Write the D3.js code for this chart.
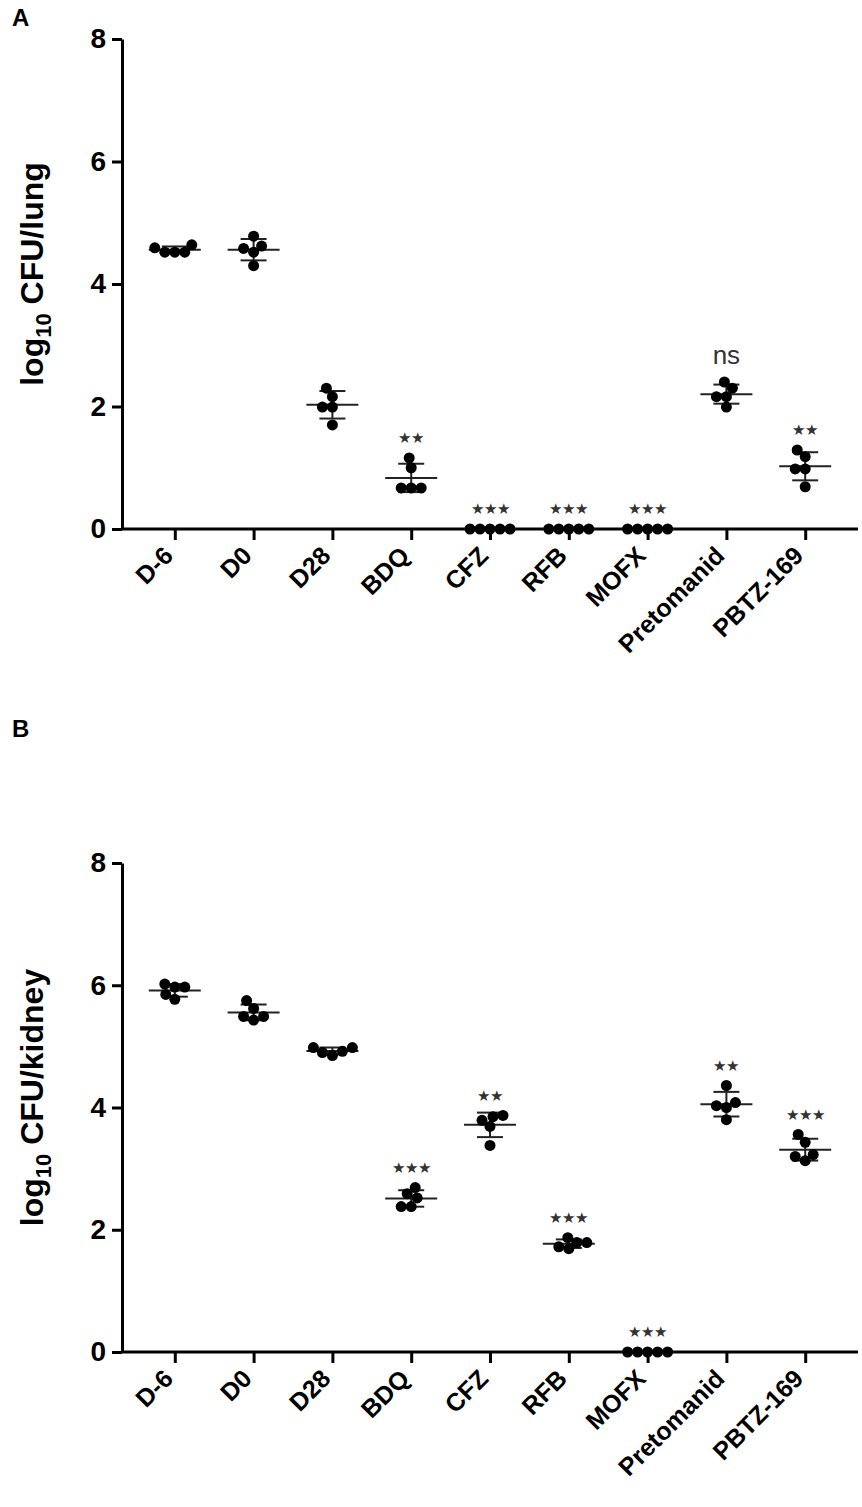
<!DOCTYPE html>
<html>
<head>
<meta charset="utf-8">
<script src="https://cdn.jsdelivr.net/npm/d3@7"></script>
<style>
  body { margin: 0; background: #fff; }
  svg { display: block; }
  text { font-family: "Liberation Sans", Arial, sans-serif; }
</style>
</head>
<body>
<script>
/* global d3 */

var categories = ["D-6", "D0", "D28", "BDQ", "CFZ", "RFB", "MOFX", "Pretomanid", "PBTZ-169"];

// log10 CFU per mouse, 5 mice per group
var lungValues = [
    [4.64, 4.52, 4.52, 4.52, 4.59],
    [4.78, 4.62, 4.58, 4.52, 4.30],
    [2.30, 2.16, 1.99, 1.99, 1.70],
    [1.16, 1.00, 0.67, 0.67, 0.67],
    [0, 0, 0, 0, 0],
    [0, 0, 0, 0, 0],
    [0, 0, 0, 0, 0],
    [2.40, 2.30, 2.16, 2.16, 1.99],
    [1.29, 1.18, 0.98, 0.98, 0.69]
];
var lungSig = ["", "", "", "**", "***", "***", "***", "ns", "**"];

var kidneyValues = [
    [5.97, 6.02, 5.77, 5.85, 5.97],
    [5.75, 5.62, 5.49, 5.43, 5.49],
    [4.98, 4.92, 4.85, 4.90, 4.98],
    [2.69, 2.59, 2.52, 2.38, 2.38],
    [3.87, 3.85, 3.79, 3.69, 3.38],
    [1.87, 1.79, 1.69, 1.72, 1.79],
    [0, 0, 0, 0, 0],
    [4.36, 4.08, 4.03, 4.00, 3.80],
    [3.56, 3.43, 3.23, 3.13, 3.20]
];
var kidneySig = ["", "", "", "***", "**", "***", "***", "**", "***"];

var yTicks = [0, 2, 4, 6, 8];

var W = 862, H = 1507;
var svg = d3.select("body").append("svg")
    .attr("width", W)
    .attr("height", H);

var x = d3.scalePoint()
    .domain(categories)
    .range([122, 858])
    .padding(0.67);

var R = 5.5;

// simple beeswarm: place each dot at the smallest horizontal offset that doesn't collide
var swarm = (vals, y) => {
    var placed = [];
    vals.map((v, i) => ({ v: v, i: i }))
        .sort((a, b) => a.v - b.v)
        .forEach((p) => {
            var py = y(p.v);
            var off = 0;
            for (var k = 0; k < 200; k++) {
                var cand = (k % 2 === 0 ? 1 : -1) * Math.ceil(k / 2);
                var ok = placed.every((q) => Math.hypot(q.dx - cand, q.py - py) >= 10);
                if (ok) { off = cand; break; }
            }
            placed.push({ dx: off, py: py });
        });
    return placed;
};

var drawPanel = (opts) => {
    var y = d3.scaleLinear().domain([0, 8]).range(opts.yRange);
    var g = svg.append("g");

    // panel letter
    g.append("text")
        .attr("x", 12)
        .attr("y", opts.letterY)
        .attr("font-size", 24)
        .attr("font-weight", "bold")
        .text(opts.letter);

    // y axis
    var yAxis = g.append("g")
        .attr("transform", "translate(122,0)")
        .call(d3.axisLeft(y).tickValues(yTicks).tickSize(10).tickSizeOuter(0).tickPadding(6));
    yAxis.select(".domain").attr("stroke-width", 3);
    yAxis.selectAll(".tick line").attr("stroke-width", 3);
    yAxis.selectAll(".tick text")
        .attr("font-size", 28)
        .attr("font-weight", "bold")
        .attr("font-family", "Liberation Sans, Arial, sans-serif")
        .attr("fill", "#000");

    // x axis
    var xAxis = g.append("g")
        .attr("transform", "translate(0," + y(0) + ")")
        .call(d3.axisBottom(x).tickSize(11).tickSizeOuter(0));
    xAxis.select(".domain")
        .attr("stroke-width", 3)
        .attr("d", "M122,0H858");
    xAxis.selectAll(".tick line").attr("stroke-width", 3);
    xAxis.selectAll(".tick text")
        .attr("font-size", 25)
        .attr("font-weight", "bold")
        .attr("font-family", "Liberation Sans, Arial, sans-serif")
        .attr("fill", "#000")
        .attr("text-anchor", "end")
        .attr("x", 0)
        .attr("y", 0)
        .attr("dy", "0.35em")
        .attr("transform", "translate(-7,22) rotate(-45)");

    // y title
    var cy = (opts.yRange[0] + opts.yRange[1]) / 2 - 10;
    var t = g.append("text")
        .attr("transform", "translate(43," + cy + ") rotate(-90)")
        .attr("text-anchor", "middle")
        .attr("font-size", 32)
        .attr("font-weight", "bold");
    t.append("tspan").text("log");
    t.append("tspan").attr("font-size", 22).attr("dy", 8).text("10");
    t.append("tspan").attr("dy", -8).text(" CFU/" + opts.organ);

    // groups
    categories.forEach((c, i) => {
        var vals = opts.values[i];
        var cx = x(c);
        var mean = d3.mean(vals);
        var sd = d3.deviation(vals) || 0;
        var gg = g.append("g");

        if (sd > 0) {
            gg.append("line")
                .attr("x1", cx).attr("x2", cx)
                .attr("y1", y(mean - sd)).attr("y2", y(mean + sd))
                .attr("stroke", "#222").attr("stroke-width", 2);
            [mean - sd, mean + sd].forEach((v) => {
                gg.append("line")
                    .attr("x1", cx - 13).attr("x2", cx + 13)
                    .attr("y1", y(v)).attr("y2", y(v))
                    .attr("stroke", "#222").attr("stroke-width", 2);
            });
        }
        gg.append("line")
            .attr("x1", cx - 26).attr("x2", cx + 26)
            .attr("y1", y(mean)).attr("y2", y(mean))
            .attr("stroke", "#222").attr("stroke-width", 2);

        gg.selectAll("circle")
            .data(swarm(vals, y))
            .enter().append("circle")
            .attr("cx", (d) => cx + d.dx)
            .attr("cy", (d) => d.py)
            .attr("r", R)
            .attr("fill", "#000");

        var s = opts.sig[i];
        if (s) {
            var top = y(d3.max(vals));
            if (s === "ns") {
                gg.append("text")
                    .attr("x", cx).attr("y", top - 27)
                    .attr("dy", "0.35em")
                    .attr("text-anchor", "middle")
                    .attr("font-size", 26)
                    .attr("fill", "#333")
                    .text("ns");
            } else {
                gg.append("text")
                    .attr("x", cx).attr("y", top - 20)
                    .attr("dy", "0.35em")
                    .attr("text-anchor", "middle")
                    .attr("font-size", 15)
                    .attr("font-family", "DejaVu Sans, sans-serif")
                    .attr("fill", "#333")
                    .text(s.replace(/\*/g, "\u2605"));
            }
        }
    });
};

drawPanel({ letter: "A", letterY: 26, yRange: [529, 39], values: lungValues, sig: lungSig, organ: "lung" });
drawPanel({ letter: "B", letterY: 737, yRange: [1352, 863], values: kidneyValues, sig: kidneySig, organ: "kidney" });
</script>
</body>
</html>
